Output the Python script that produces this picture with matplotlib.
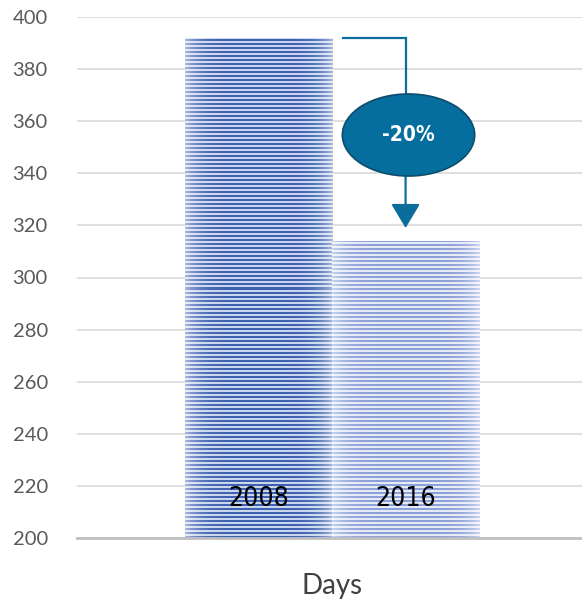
import matplotlib
matplotlib.use("Agg")
import matplotlib.pyplot as plt
from matplotlib import font_manager
from matplotlib.colors import to_rgb
from matplotlib.patches import Ellipse, FancyArrowPatch
import numpy as np

# Data
years = ["2008", "2016"]
days = [392, 314]
category = "Days"
yticks = list(range(200, 401, 20))

bar_face = ["#cad6ee", "#e5eaf7"]
bar_stripe = ["#3d61b1", "#8d9fd8"]
accent = "#0b6d9c"

# pick a condensed face for the in-bar labels if one is installed
cond = font_manager.FontProperties(family="DejaVu Sans", stretch="condensed")
cond_file = font_manager.findfont(cond)
if "Condensed" in cond_file:
    label_font = dict(family="DejaVu Sans", fontstretch="condensed")
else:
    label_font = dict(family=["Liberation Sans", "DejaVu Sans"])
year_size, pct_size = 19, 15

plt.rcParams["font.family"] = ["Lato", "DejaVu Sans"]

fig = plt.figure(figsize=(5.82, 6.06), dpi=100)
ax_w_px, ax_h_px = 505, 521
ax = fig.add_axes([77 / 582, 68 / 606, ax_w_px / 582, ax_h_px / 606])
xlim = (-1.235, 2.2)
ylim = (200, 400)
ax.set_xlim(*xlim)
ax.set_ylim(*ylim)

px_per_x = ax_w_px / (xlim[1] - xlim[0])
px_per_y = ax_h_px / (ylim[1] - ylim[0])


def striped_fill(face, stripe, w_px, h_px):
    """Horizontal pinstripes with a soft light fade toward the side edges."""
    rows = np.arange(h_px)
    dark = ((rows[::-1] % 4) < 2).astype(float)[:, None]
    base = np.array(to_rgb(face))[None, None, :] * (1 - dark[..., None]) + \
        np.array(to_rgb(stripe))[None, None, :] * dark[..., None]
    base = np.repeat(base, w_px, axis=1)
    fade = np.abs(np.linspace(-1, 1, w_px)) ** 5 * 0.55
    img = base * (1 - fade[None, :, None]) + fade[None, :, None]
    return img


x = np.arange(len(days))
for i, (xi, v) in enumerate(zip(x, days)):
    b = ax.bar(xi, v - ylim[0], bottom=ylim[0], width=1.0, color=bar_face[i],
               edgecolor="none", zorder=2)
    w_px = int(round(1.0 * px_per_x))
    h_px = int(round((v - ylim[0]) * px_per_y))
    img = striped_fill(bar_face[i], bar_stripe[i], w_px, h_px)
    im = ax.imshow(img, extent=[xi - 0.5, xi + 0.5, ylim[0], v], aspect="auto",
                   zorder=3, interpolation="nearest")
    im.set_clip_path(b.patches[0])
    ax.text(xi, 215, years[i], ha="center", va="center", fontsize=year_size,
            color="black", zorder=4, **label_font)

ax.set_xlim(*xlim)
ax.set_ylim(*ylim)
ax.set_yticks(yticks)
ax.set_xticks([0.5])
ax.set_xticklabels([category])
ax.tick_params(axis="y", length=0, pad=21, labelsize=14.5, labelcolor="#595959")
ax.tick_params(axis="x", length=0, pad=25, labelsize=20, labelcolor="#404040")
ax.grid(axis="y", color="#d9d9d9", linewidth=1.2, zorder=0)
ax.set_axisbelow(True)
for s in ["top", "right", "left"]:
    ax.spines[s].set_visible(False)
ax.spines["bottom"].set_color("#bfbfbf")
ax.spines["bottom"].set_linewidth(2.0)
ax.spines["bottom"].set_zorder(5)

# change callout: elbow connector from first bar top down to the second bar
change = round((days[1] / days[0] - 1) * 100)
x_start, x_mid = 0.575, 1.0
e_cx, e_cy, e_w, e_h = 1.02, 354.7, 0.9, 31.5
ax.plot([x_start, x_mid, x_mid], [days[0], days[0], e_cy + e_h / 2],
        color=accent, linewidth=1.6, zorder=3, solid_joinstyle="miter")
arr = FancyArrowPatch((x_mid, e_cy - e_h / 2), (x_mid, days[1] + 5),
                      arrowstyle="-|>,head_length=7.5,head_width=4.5",
                      color=accent, linewidth=1.6, zorder=3,
                      shrinkA=0, shrinkB=0, mutation_scale=2)
ax.add_patch(arr)
ell = Ellipse((e_cx, e_cy), e_w, e_h, facecolor="#066d9f",
              edgecolor="#0d4d6b", linewidth=1.2, zorder=4)
ax.add_patch(ell)
ax.text(e_cx, e_cy, f"{change}%", ha="center", va="center", color="white",
        fontsize=pct_size, fontweight="bold", zorder=5, **label_font)

fig.savefig("out.png", dpi=100)
